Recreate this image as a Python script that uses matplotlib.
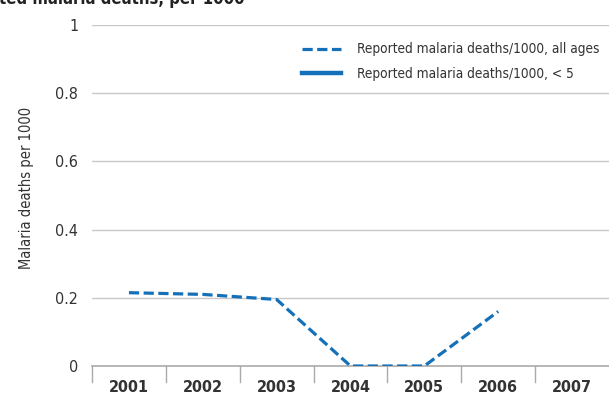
import matplotlib.pyplot as plt
import numpy as np

plt.rcParams['font.family'] = ['Liberation Sans Narrow', 'DejaVu Sans']
plt.rcParams['font.stretch'] = 'condensed'

# Data
years = ['2001', '2002', '2003', '2004', '2005', '2006', '2007']
deaths_all_ages = [0.215, 0.21, 0.195, 0.0, 0.0, 0.16, np.nan]
deaths_under5 = []  # no values shown
y_ticks = [0, 0.2, 0.4, 0.6, 0.8, 1]
y_tick_labels = ['0', '0.2', '0.4', '0.6', '0.8', '1']

blue = '#1470b8'
grid_col = '#c8c8c8'
txt_col = '#333333'

fig = plt.figure(figsize=(6.09, 3.96), dpi=100)
ax = fig.add_axes([92 / 609, 1 - 366 / 396, 517 / 609, 341 / 396])

x = np.arange(len(years))
ax.plot(x, deaths_all_ages, color=blue, lw=2.3, dashes=(3.2, 1.4),
        label='Reported malaria deaths/1000, all ages')
ax.plot(x[:len(deaths_under5)], deaths_under5, color=blue, lw=3.2,
        label='Reported malaria deaths/1000, < 5')

ax.set_xlim(-0.5, len(years) - 0.5)
ax.set_ylim(0, 1)

for t in y_ticks[1:]:
    ax.axhline(t, color=grid_col, lw=1, zorder=0)
ax.axhline(0, color='#aaaaaa', lw=1.2, zorder=0, clip_on=False)

ax.set_yticks(y_ticks)
ax.set_yticklabels(y_tick_labels, fontsize=11.5, color=txt_col)
ax.tick_params(axis='y', length=0, pad=10)

ax.set_xticks(x)
ax.set_xticklabels(years, fontsize=11.5, fontweight='bold', color=txt_col)
ax.tick_params(axis='x', length=0, pad=10)

# band separators below the zero line
for b in np.arange(-0.5, len(years) - 0.5, 1.0):
    ax.plot([b, b], [0, -0.047], color='#aaaaaa', lw=1, clip_on=False)

for s in ax.spines.values():
    s.set_visible(False)

ax.set_ylabel('Malaria deaths per 1000', fontsize=10.5, color=txt_col, labelpad=15)
ax.yaxis.label.set_y((366 - 188) / 341)

leg = ax.legend(loc='upper right', bbox_to_anchor=(1.005, 0.985), frameon=False,
                fontsize=9.8, handlelength=2.8, handletextpad=1.2, labelspacing=0.8)
for t in leg.get_texts():
    t.set_color(txt_col)

fig.text(245 / 609, 1 - 4 / 396, 'Reported malaria deaths, per 1000', ha='right',
         va='baseline', fontsize=12, fontweight='bold', color='#222222')

fig.savefig('out.png', dpi=100)
